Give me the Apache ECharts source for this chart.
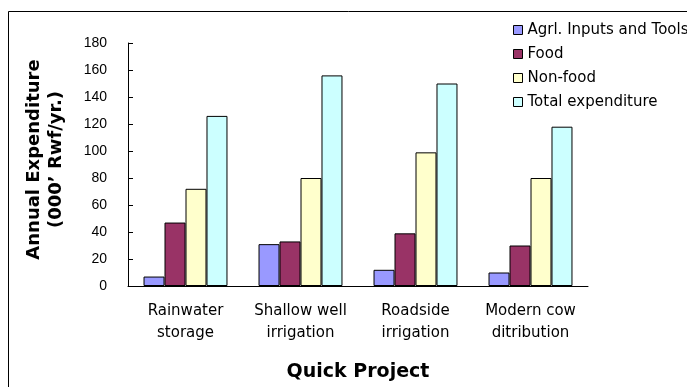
<!DOCTYPE html>
<html><head><meta charset="utf-8">
<script src="https://cdn.jsdelivr.net/npm/echarts@6/dist/echarts.min.js"></script>
<style>html,body{margin:0;padding:0;background:#fff}#c{width:687px;height:387px}</style>
</head><body><div id="c"></div>
<script>
var categories = ['Rainwater\nstorage', 'Shallow well\nirrigation', 'Roadside\nirrigation', 'Modern cow\nditribution'];
var agrlInputs = [7, 31, 12, 10];
var food = [47, 33, 39, 30];
var nonFood = [72, 80, 99, 80];
var totalExp = [126, 156, 150, 118];
var seriesNames = ['Agrl. Inputs and Tools', 'Food', 'Non-food', 'Total expenditure'];
var colors = ['#9999FF', '#993366', '#FFFFCC', '#CCFFFF'];
var yTicks = {min: 0, max: 180, interval: 20};

var chart = echarts.init(document.getElementById('c'), null, {renderer: 'canvas'});
function mk(name, data, color) {
  return {
    name: name, type: 'bar', data: data,
    barGap: '0%', barCategoryGap: '27%',
    itemStyle: {color: color, borderColor: '#000', borderWidth: 1},
    animation: false
  };
}
chart.setOption({
  animation: false,
  backgroundColor: '#fff',
  grid: {left: 128, right: 99, top: 43, bottom: 101},
  legend: {
    orient: 'vertical', left: 508, top: 17,
    itemWidth: 9, itemHeight: 9, itemGap: 8,
    icon: 'rect',
    textStyle: {fontSize: 15, color: '#000', fontFamily: 'DejaVu Sans', lineHeight: 16},
    data: seriesNames.map(function (n, i) { return {name: n, itemStyle: {color: colors[i], borderColor: '#000', borderWidth: 1}}; })
  },
  xAxis: {
    type: 'category', data: categories,
    name: 'Quick Project', nameLocation: 'middle', nameGap: 77,
    nameTextStyle: {fontSize: 19, fontWeight: 'bold', color: '#000', fontFamily: 'DejaVu Sans'},
    axisLine: {lineStyle: {color: '#000', width: 1}},
    axisTick: {inside: true, length: 6, lineStyle: {color: '#000'}},
    axisLabel: {fontSize: 15, color: '#000', lineHeight: 22, margin: 14, fontFamily: 'DejaVu Sans', interval: 0}
  },
  yAxis: {
    type: 'value', min: yTicks.min, max: yTicks.max, interval: yTicks.interval,
    name: 'Annual Expenditure\n(000\u2019 Rwf/yr.)', nameLocation: 'middle', nameRotate: 90, nameGap: 61,
    nameTextStyle: {fontSize: 18, fontWeight: 'bold', color: '#000', fontFamily: 'DejaVu Sans', lineHeight: 22, align: 'center', padding: [0, 0, 0, 10]},
    axisLine: {show: true, lineStyle: {color: '#000', width: 1}},
    axisTick: {show: true, inside: true, length: 5, lineStyle: {color: '#000'}},
    splitLine: {show: false},
    axisLabel: {fontSize: 14, color: '#000', margin: 21, fontFamily: 'Liberation Sans'}
  },
  graphic: [{
    type: 'rect', silent: true,
    shape: {x: 8.5, y: 11.5, width: 700, height: 400},
    style: {fill: 'none', stroke: '#000', lineWidth: 1}
  }],
  series: [
    mk(seriesNames[0], agrlInputs, colors[0]),
    mk(seriesNames[1], food, colors[1]),
    mk(seriesNames[2], nonFood, colors[2]),
    mk(seriesNames[3], totalExp, colors[3])
  ]
});
</script></body></html>
